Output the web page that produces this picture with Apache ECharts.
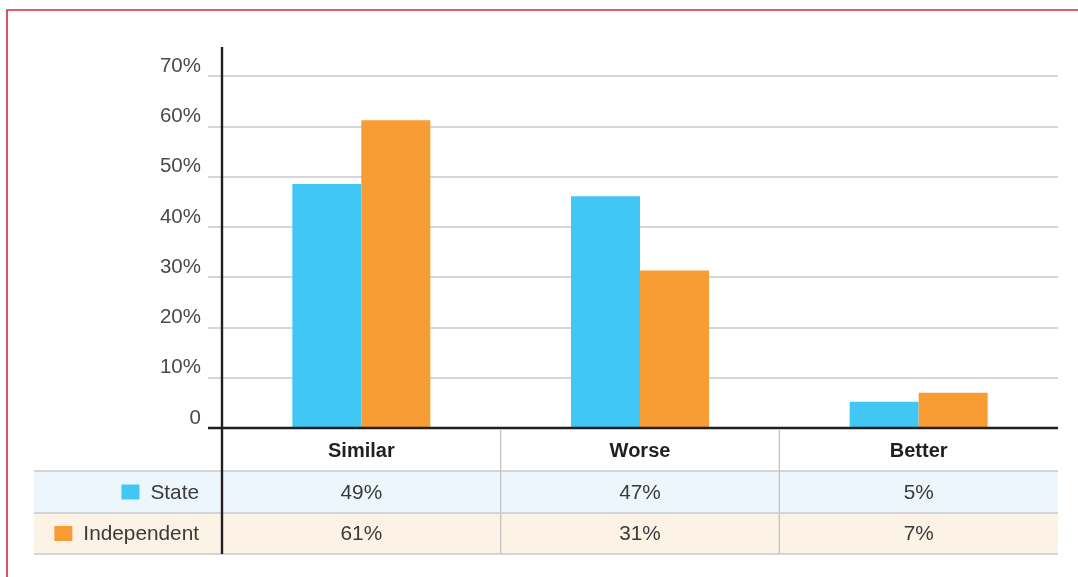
<!DOCTYPE html>
<html>
<head>
<meta charset="utf-8">
<script src="https://cdn.jsdelivr.net/npm/echarts@6/dist/echarts.min.js"></script>
<style>
html,body{margin:0;padding:0;background:#fff;}
#chart{width:1078px;height:577px;}
</style>
</head>
<body>
<div id="chart"></div>
<script>
const categories = ['Similar', 'Worse', 'Better'];
const seriesNames = ['State', 'Independent'];
const stateValues = [48.5, 46.1, 5.2];
const independentValues = [61.2, 31.3, 7.0];
const stateTable = ['49%', '47%', '5%'];
const independentTable = ['61%', '31%', '7%'];
const yTickLabels = ['0', '10%', '20%', '30%', '40%', '50%', '60%', '70%'];

const FONT = '"Liberation Sans", Arial, Helvetica, sans-serif';
const BLUE = '#41c7f3';
const ORANGE = '#f79d33';
const GRID = '#c9c9cb';
const DARK = '#231f20';

const chart = echarts.init(document.getElementById('chart'), null, {renderer: 'canvas'});
chart.setOption({
  animation: false,
  backgroundColor: '#ffffff',
  grid: {left: 222, right: 20, top: 76, bottom: 149, containLabel: false},
  xAxis: {
    type: 'category',
    data: categories,
    axisLine: {show: false},
    axisTick: {show: false},
    splitLine: {show: false},
    axisLabel: {
      margin: 13, fontSize: 20, fontWeight: 'bold', color: DARK,
      fontFamily: FONT, lineHeight: 20, verticalAlign: 'top'
    }
  },
  yAxis: {
    type: 'value', min: 0, max: 70, interval: 10,
    axisLine: {show: false},
    axisTick: {show: true, length: 14, lineStyle: {color: GRID, width: 1.5}},
    splitLine: {show: true, lineStyle: {color: GRID, width: 1.5}},
    axisLabel: {
      margin: 21, fontSize: 20.5, color: '#4a4a4a', fontFamily: FONT,
      verticalAlign: 'bottom', lineHeight: 20,
      formatter: function (v) { return yTickLabels[Math.round(v / 10)]; }
    }
  },
  series: [
    {name: seriesNames[0], type: 'bar', data: stateValues, barWidth: 69, barGap: '0%',
     itemStyle: {color: BLUE}},
    {name: seriesNames[1], type: 'bar', data: independentValues, barWidth: 69, barGap: '0%',
     itemStyle: {color: ORANGE}}
  ]
});

// Build table / frame from the axes' own scales
const y0 = chart.convertToPixel({yAxisIndex: 0}, 0);
const yTop = chart.convertToPixel({yAxisIndex: 0}, 70);
const xs = categories.map(c => chart.convertToPixel({xAxisIndex: 0}, c));
const gridLeft = 222, gridRight = 1078 - 20;
const band = (gridRight - gridLeft) / categories.length;

const headerBottom = y0 + 43;
const row1Bottom = y0 + 85;
const row2Bottom = y0 + 126;
const tableLeft = 34;

const measure = (function () {
  const c = document.createElement('canvas').getContext('2d');
  return function (t, f) { c.font = f; return c.measureText(t).width; };
})();

const g = [];
// frame
g.push({type: 'rect', shape: {x: 7, y: 10, width: 1200, height: 700},
  style: {fill: null, stroke: '#d42a39', lineWidth: 1.6}, z: 1});
// row backgrounds
g.push({type: 'rect', shape: {x: tableLeft, y: headerBottom, width: gridRight - tableLeft, height: row1Bottom - headerBottom},
  style: {fill: '#edf6fc'}, z: 0});
g.push({type: 'rect', shape: {x: tableLeft, y: row1Bottom, width: gridRight - tableLeft, height: row2Bottom - row1Bottom},
  style: {fill: '#fcf2e5'}, z: 0});
// horizontal row lines
[headerBottom, row1Bottom, row2Bottom].forEach(function (y) {
  g.push({type: 'line', shape: {x1: tableLeft, y1: y, x2: gridRight, y2: y},
    style: {stroke: GRID, lineWidth: 1.5}, z: 5});
});
// column separators
for (let i = 1; i < categories.length; i++) {
  const x = gridLeft + band * i;
  g.push({type: 'line', shape: {x1: x, y1: y0 + 2, x2: x, y2: row2Bottom},
    style: {stroke: GRID, lineWidth: 1.5}, z: 5});
}
// baseline
g.push({type: 'line', shape: {x1: 208, y1: y0, x2: gridRight, y2: y0},
  style: {stroke: DARK, lineWidth: 2.6}, z: 20});
// vertical axis
g.push({type: 'line', shape: {x1: gridLeft, y1: yTop - 29, x2: gridLeft, y2: row2Bottom},
  style: {stroke: DARK, lineWidth: 2.4}, z: 20});

// cell values
const rows = [
  {top: headerBottom, bottom: row1Bottom, labels: stateTable, name: seriesNames[0], color: BLUE},
  {top: row1Bottom, bottom: row2Bottom, labels: independentTable, name: seriesNames[1], color: ORANGE}
];
const textFont = '20.8px ' + FONT;
rows.forEach(function (r) {
  const cy = (r.top + r.bottom) / 2;
  r.labels.forEach(function (t, i) {
    g.push({type: 'text', x: xs[i], y: cy + 1, z: 10,
      style: {text: t, fill: '#3a3a3a', font: textFont, align: 'center', verticalAlign: 'middle'}});
  });
  const textRight = 199;
  g.push({type: 'text', x: textRight, y: cy + 1, z: 10,
    style: {text: r.name, fill: '#3a3a3a', font: textFont, align: 'right', verticalAlign: 'middle'}});
  const w = measure(r.name, textFont);
  const sqRight = textRight - w - 11;
  g.push({type: 'rect', shape: {x: sqRight - 18, y: cy - 7.5, width: 18, height: 15},
    style: {fill: r.color}, z: 10});
});

chart.setOption({graphic: {elements: g}});
</script>
</body>
</html>
